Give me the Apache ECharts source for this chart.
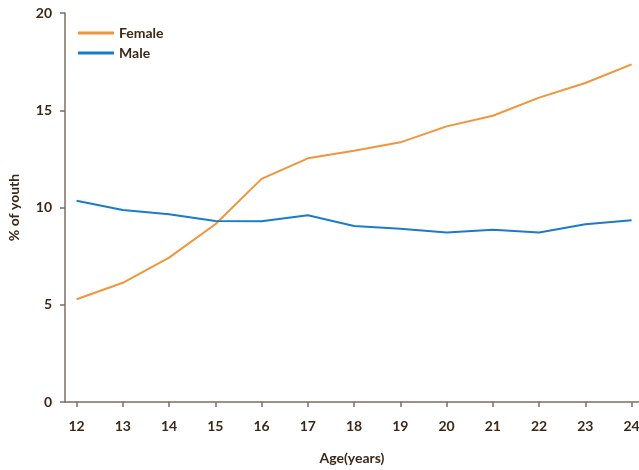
<!DOCTYPE html>
<html><head><meta charset="utf-8">
<script src="https://cdn.jsdelivr.net/npm/echarts@6/dist/echarts.min.js"></script>
<style>html,body{margin:0;padding:0;background:#fff}#c{width:639px;height:470px}</style>
</head><body><div id="c"></div>
<script>
const ages = [12,13,14,15,16,17,18,19,20,21,22,23,24];
const female = [5.28,6.13,7.42,9.14,11.47,12.53,12.92,13.35,14.17,14.72,15.65,16.40,17.36];
const male = [10.35,9.87,9.65,9.31,9.29,9.60,9.05,8.91,8.72,8.86,8.72,9.14,9.34];
const yTicks = [0,5,10,15,20];

const txt = '#3d2817';
const axisCol = '#7d6e60';
const font = 'Lato';
const chart = echarts.init(document.getElementById('c'), null, {renderer:'canvas'});
chart.setOption({
  animation:false,
  grid:{left:65,right:0,top:13,bottom:68,containLabel:false,outerBoundsMode:'none'},
  legend:{orient:'vertical',left:73,top:21,itemWidth:36,itemHeight:3,itemGap:6,
    icon:'rect',
    textStyle:{color:txt,fontFamily:font,fontWeight:'bold',fontSize:14},
    data:['Female','Male']},
  xAxis:{type:'value',min:11.75,max:24.16,
    name:'Age(years)',nameLocation:'middle',nameGap:49,
    nameTextStyle:{color:txt,fontFamily:font,fontWeight:'bold',fontSize:14},
    axisLine:{onZero:false,lineStyle:{color:axisCol,width:1.5}},
    axisTick:{show:true,length:5,inside:false,customValues:ages,lineStyle:{color:axisCol,width:1.5}},
    axisLabel:{customValues:ages,color:txt,fontFamily:font,fontWeight:'bold',fontSize:14,margin:17},
    splitLine:{show:false}},
  yAxis:{type:'value',min:0,max:20,interval:5,
    name:'% of youth',nameLocation:'middle',nameGap:44,nameRotate:90,
    nameTextStyle:{color:txt,fontFamily:font,fontWeight:'bold',fontSize:14},
    axisLine:{show:true,lineStyle:{color:axisCol,width:1.5}},
    axisTick:{show:true,length:5,lineStyle:{color:axisCol,width:1.5}},
    axisLabel:{customValues:yTicks,color:txt,fontFamily:font,fontWeight:'bold',fontSize:14,margin:13},
    splitLine:{show:false}},
  series:[
    {name:'Female',type:'line',symbol:'none',data:ages.map((a,i)=>[a,female[i]]),
      lineStyle:{color:'#f0953c',width:2},itemStyle:{color:'#f0953c'}},
    {name:'Male',type:'line',symbol:'none',data:ages.map((a,i)=>[a,male[i]]),
      lineStyle:{color:'#1a7cc9',width:2},itemStyle:{color:'#1a7cc9'}}
  ]
});
</script></body></html>
